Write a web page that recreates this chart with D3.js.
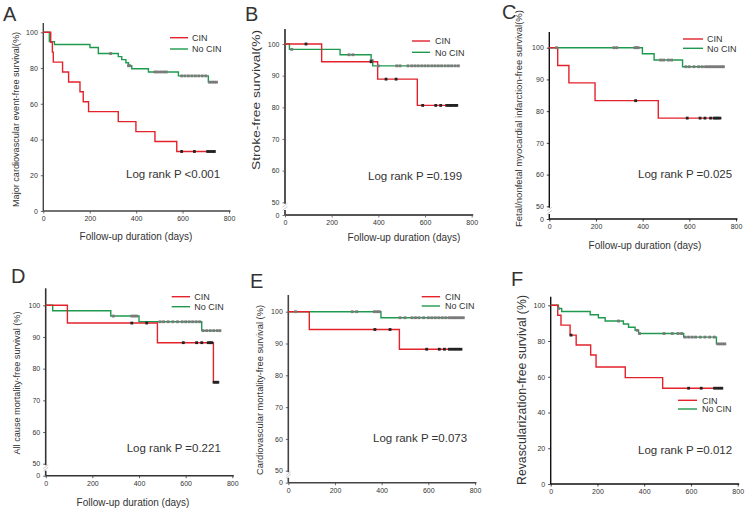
<!DOCTYPE html>
<html><head><meta charset="utf-8">
<script src="https://cdn.jsdelivr.net/npm/d3@7"></script>
<style>
body{margin:0;background:#fff}
svg{display:block}
text{font-family:"Liberation Sans",Arial,sans-serif;fill:#333}
</style>
</head><body>
<svg id="chart" width="747" height="510"></svg>
<script>
// ---------- data ----------
const xTicks = [0, 200, 400, 600, 800];
const yTicksFull = [0, 20, 40, 60, 80, 100];
const yTicksBroken = [0, 50, 60, 70, 80, 90, 100];
const seriesNames = ["CIN", "No CIN"];
const panelLetters = ["A", "B", "C", "D", "E", "F"];
const yTitles = [
  "Major cardiovascular event-free survival(%)",
  "Stroke-free survival(%)",
  "Fetal/nonfetal myocardial infarction-free survival(%)",
  "All cause mortality-free survival (%)",
  "Cardiovascular mortality-free survival (%)",
  "Revascularization-free survival (%)"
];
const pTexts = ["Log rank P <0.001", "Log rank P =0.199", "Log rank P =0.025",
                "Log rank P =0.221", "Log rank P =0.073", "Log rank P =0.012"];
const xTitle = "Follow-up duration (days)";

// Panel A
const aCin = [[0,100],[32,94.4],[39,88.9],[43,83.3],[83,77.8],[109,72.2],[158,66.7],[172,61.1],[195,55.6],[323,50],[399,44.4],[481,38.9],[575,33.3]];
const aCinEnd = 740;
const aCinCens = [596,651,708,718,728,737];
const aNo = [[0,100],[26,94.8],[48,93.2],[201,91.5],[237,88.1],[323,86.4],[338,84.7],[356,83],[367,81.3],[381,79.6],[453,77.8],[582,75.6],[711,72.1]];
const aNoEnd = 750;
const aNoCens = [290,367,372,481,492,505,518,530,596,610,625,640,655,670,685,700,716,726,736,746];
// Panel B
const bCin = [[0,100],[157,94.4],[397,88.9],[567,80.6]];
const bCinEnd = 736;
const bCinCens = [90,369,433,476,590,646,667,693,703,710,718,727,736];
const bNo = [[0,100],[19,98.3],[236,96.6],[369,94.8],[376,93.1]];
const bNoEnd = 743;
const bNoCens = [29,274,291,369,373,400,479,493,527,543,557,571,586,600,614,629,643,657,671,686,700,714,729,743];
// Panel C
const cCin = [[0,100],[36,94.4],[84,88.9],[196,83.3],[467,77.8]];
const cCinEnd = 737;
const cCinCens = [370,591,646,667,691,706,714,722,731];
const cNo = [[0,100],[399,98.1],[449,96.1],[571,94]];
const cNoEnd = 746;
const cNoCens = [31,277,289,367,374,381,477,490,510,524,585,600,620,640,655,670,680,690,700,710,720,730,740,746];
// Panel D
const dCin = [[0,100],[93,94.4],[479,88.2],[719,75.7]];
const dCinEnd = 740;
const dCinCens = [369,433,590,647,669,697,705,712,722,730,738];
const dNo = [[0,100],[30,98.3],[279,96.6],[400,94.8],[669,92]];
const dNoEnd = 747;
const dNoCens = [290,369,380,390,490,505,525,545,565,585,600,615,630,645,660,675,690,705,720,735,747];
// Panel E
const eCin = [[0,100],[90,94.4],[476,88.2]];
const eCinEnd = 740;
const eCinCens = [371,436,593,647,669,690,700,710,720,730,740];
const eNo = [[0,100],[397,98.1]];
const eNoEnd = 750;
const eNoCens = [31,274,293,369,380,390,479,500,530,545,560,580,600,615,630,645,660,675,690,700,710,720,730,740,750];
// Panel F
const fCin = [[0,100],[30,94.4],[44,88.9],[83,83.3],[109,77.8],[171,72.2],[194,65.5],[319,59.5],[479,53.6]];
const fCinEnd = 737;
const fCinCens = [87,590,644,701,712,722,732];
const fNo = [[0,100],[33,98.2],[47,96.5],[169,94.7],[204,93],[233,91.2],[311,89.5],[333,87.7],[361,86],[376,84.2],[569,82.2],[709,78.4]];
const fNoEnd = 747;
const fNoCens = [33,290,370,380,485,520,545,560,575,590,605,620,640,660,680,700,715,725,735,745];

// ---------- layout ----------
const RED = "#e3222b", GREEN = "#1e9a4e";
const layouts = [
  {lx:3, ly:21, x0:43.3, x1:229, y0:211, y50:null, y100:32.3, yTop:23, ax:"#444", aw:1.4,
   leg:[170,188,37.7,49,192], pt:[126,178], xt:[136,240], yt:[16,119.5], ytSize:9.5, ytLen:175},
  {lx:245, ly:21, x0:285, x1:471.7, y0:215, y50:202.3, y100:44, yTop:29, ax:"#555", aw:2,
   leg:[412,430,41,52.3,435], pt:[368,180], xt:[404,241], yt:[256,100], ytSize:11, ytLen:140},
  {lx:502, ly:19, x0:549.3, x1:736, y0:219, y50:206.3, y100:47.7, yTop:32, ax:"#111", aw:1.4,
   leg:[683,703,39,48.3,707], pt:[638,178], xt:[645,249], yt:[519,118.5], ytSize:9.5, ytLen:217},
  {lx:11, ly:283, x0:45.7, x1:232.3, y0:475.7, y50:463.7, y100:305.3, yTop:288.3, ax:"#333", aw:1.6,
   leg:[171.7,190,296.7,306.7,194.3], pt:[126.7,451.7], xt:[133,506], yt:[16.7,383], ytSize:9, ytLen:143},
  {lx:250, ly:288, x0:288.3, x1:475, y0:482.7, y50:470.7, y100:311.7, yTop:295, ax:"#444", aw:1.6,
   leg:[421.7,440,296.7,306,445], pt:[373,441.7], xt:null, yt:[260,390], ytSize:9, ytLen:170},
  {lx:511, ly:286, x0:550.7, x1:737.7, y0:484, y50:null, y100:305.3, yTop:296.7, ax:"#111", aw:1.4,
   leg:[678,697,400.3,409,702], pt:[638,454.3], xt:null, yt:[521.7,390], ytSize:12, ytLen:190}
];
const panelData = [
  [aCin,aCinEnd,aCinCens,aNo,aNoEnd,aNoCens],
  [bCin,bCinEnd,bCinCens,bNo,bNoEnd,bNoCens],
  [cCin,cCinEnd,cCinCens,cNo,cNoEnd,cNoCens],
  [dCin,dCinEnd,dCinCens,dNo,dNoEnd,dNoCens],
  [eCin,eCinEnd,eCinCens,eNo,eNoEnd,eNoCens],
  [fCin,fCinEnd,fCinCens,fNo,fNoEnd,fNoCens]
];

const svg = d3.select("#chart");

function survAt(steps, t) {
  let v = steps[0][1];
  for (const s of steps) { if (s[0] <= t) v = s[1]; }
  return v;
}

layouts.forEach((L, i) => {
  const g = svg.append("g");
  const [cin, cinEnd, cinCens, no, noEnd, noCens] = panelData[i];
  const broken = L.y50 !== null;
  const x = d3.scaleLinear().domain([0, 800]).range([L.x0, L.x1]);
  const y = broken
    ? d3.scaleLinear().domain([0, 50, 100]).range([L.y0, L.y50, L.y100])
    : d3.scaleLinear().domain([0, 100]).range([L.y0, L.y100]);

  // x axis
  const xa = g.append("g").attr("transform", `translate(0,${L.y0})`)
    .call(d3.axisBottom(x).tickValues(xTicks).tickSize(2.5).tickSizeOuter(0).tickPadding(3));
  xa.select(".domain").remove();
  xa.selectAll(".tick line").attr("stroke", L.ax).attr("stroke-width", 0.8);
  xa.selectAll(".tick text").attr("font-size", 7).attr("fill", "#333")
    .style("font-family", '"Liberation Sans",Arial,sans-serif');
  g.append("line").attr("x1", L.x0).attr("x2", L.x1 + 1.5).attr("y1", L.y0).attr("y2", L.y0)
    .attr("stroke", L.ax).attr("stroke-width", L.aw);

  // y axis
  const ya = g.append("g").attr("transform", `translate(${L.x0},0)`)
    .call(d3.axisLeft(y).tickValues(broken ? yTicksBroken : yTicksFull).tickSize(2.5).tickPadding(3));
  ya.select(".domain").remove();
  ya.selectAll(".tick line").attr("stroke", L.ax).attr("stroke-width", 0.8);
  ya.selectAll(".tick text").attr("font-size", 7).attr("fill", "#333")
    .style("font-family", '"Liberation Sans",Arial,sans-serif');
  if (broken) {
    g.append("line").attr("x1", L.x0).attr("x2", L.x0).attr("y1", L.yTop).attr("y2", L.y50 + 1.5)
      .attr("stroke", L.ax).attr("stroke-width", L.aw);
    g.append("line").attr("x1", L.x0).attr("x2", L.x0).attr("y1", L.y0 - 5).attr("y2", L.y0)
      .attr("stroke", L.ax).attr("stroke-width", L.aw);
    [L.y50 + 3, L.y0 - 6.5].forEach(yy => {
      g.append("line").attr("x1", L.x0 - 2.5).attr("x2", L.x0 + 2.5)
        .attr("y1", yy + 2).attr("y2", yy - 2).attr("stroke", "#bbb").attr("stroke-width", 0.8);
    });
  } else {
    g.append("line").attr("x1", L.x0).attr("x2", L.x0).attr("y1", L.yTop).attr("y2", L.y0)
      .attr("stroke", L.ax).attr("stroke-width", L.aw);
  }

  // curves
  const line = d3.line().x(d => x(d[0])).y(d => y(d[1])).curve(d3.curveStepAfter);
  const series = [
    {steps: cin, end: cinEnd, cens: cinCens, color: RED, mark: "#222"},
    {steps: no, end: noEnd, cens: noCens, color: GREEN, mark: "#7a7a7a"}
  ];
  [series[1], series[0]].forEach(s => {
    const pts = s.steps.concat([[s.end, s.steps[s.steps.length - 1][1]]]);
    g.append("path").attr("d", line(pts)).attr("fill", "none")
      .attr("stroke", s.color).attr("stroke-width", 1.4);
  });
  [series[1], series[0]].forEach(s => {
    g.selectAll(null).data(s.cens).enter().append("rect")
      .attr("x", d => x(d) - 1.4).attr("y", d => y(survAt(s.steps, d)) - 1.4)
      .attr("width", 2.8).attr("height", 2.8).attr("fill", s.mark);
  });

  // legend
  const [lx1, lx2, ly1, ly2, ltx] = L.leg;
  [[RED, ly1, seriesNames[0]], [GREEN, ly2, seriesNames[1]]].forEach(([c, yy, t]) => {
    g.append("line").attr("x1", lx1).attr("x2", lx2).attr("y1", yy).attr("y2", yy)
      .attr("stroke", c).attr("stroke-width", 1.4);
    g.append("text").attr("x", ltx).attr("y", yy + 3.2).attr("font-size", 9).text(t);
  });

  // texts
  g.append("text").attr("x", L.pt[0]).attr("y", L.pt[1]).attr("font-size", 11.5).attr("fill", "#222").text(pTexts[i]);
  g.append("text").attr("x", L.lx).attr("y", L.ly).attr("font-size", 20).attr("fill", "#111").text(panelLetters[i]);
  if (L.xt) {
    g.append("text").attr("x", L.xt[0]).attr("y", L.xt[1]).attr("text-anchor", "middle")
      .attr("font-size", 10).text(xTitle);
  }
  g.append("text").attr("transform", `translate(${L.yt[0]},${L.yt[1]}) rotate(-90)`)
    .attr("text-anchor", "middle").attr("dy", "0.35em").attr("font-size", L.ytSize)
    .attr("textLength", L.ytLen).attr("lengthAdjust", "spacingAndGlyphs").text(yTitles[i]);
});
</script>
</body></html>
